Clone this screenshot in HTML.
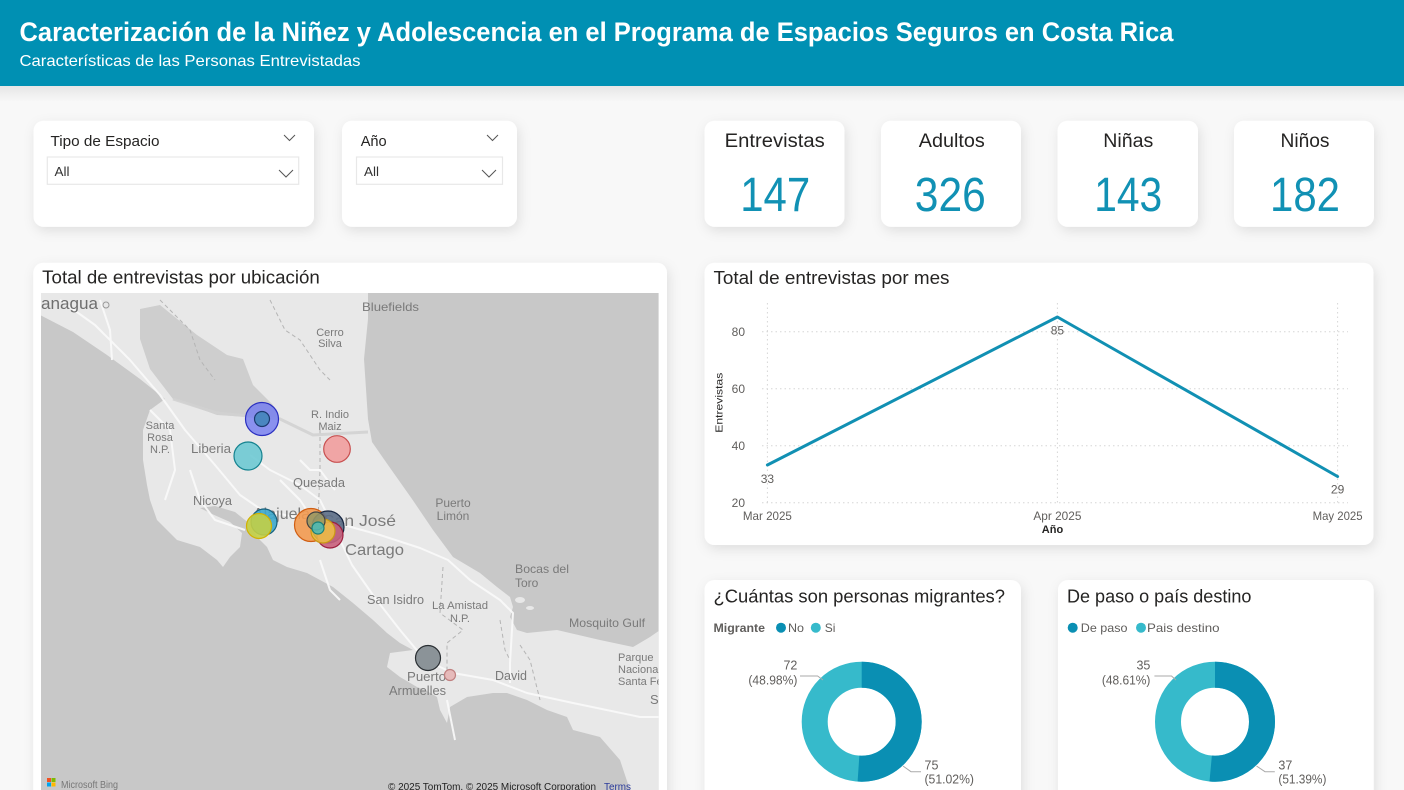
<!DOCTYPE html>
<html><head><meta charset="utf-8"><style>
html,body{margin:0;padding:0;background:#f8f8f8;}
svg{display:block;}
text{font-family:"Liberation Sans",sans-serif;}
</style></head><body>
<svg width="1404" height="790" viewBox="0 0 1404 790" xmlns="http://www.w3.org/2000/svg">
<defs>
<filter id="sh" x="-20%" y="-20%" width="140%" height="140%">
<feDropShadow dx="2" dy="4" stdDeviation="6" flood-color="#000" flood-opacity="0.10"/>
</filter>
<linearGradient id="hs" x1="0" y1="0" x2="0" y2="1">
<stop offset="0" stop-color="#e6e6e6"/><stop offset="1" stop-color="#f8f8f8"/>
</linearGradient>
<clipPath id="mapclip"><rect x="41" y="293" width="617.6" height="497"/></clipPath>
</defs>
<rect x="0" y="0" width="1404" height="790" fill="#f8f8f8"/>
<rect x="0" y="86" width="1404" height="16" fill="url(#hs)"/>
<rect x="0" y="0" width="1404" height="86" fill="#0090b3"/>
<text x="19.5" y="41" font-size="27" font-weight="bold" fill="#fff" textLength="1154" lengthAdjust="spacingAndGlyphs">Caracterización de la Niñez y Adolescencia en el Programa de Espacios Seguros en Costa Rica</text>
<text x="19.5" y="66" font-size="16" fill="#fff" textLength="341" lengthAdjust="spacingAndGlyphs">Características de las Personas Entrevistadas</text>

<!-- Slicers -->
<rect x="33.5" y="120.7" width="280.5" height="106" rx="10" fill="#fff" filter="url(#sh)"/>
<text x="50.5" y="146" font-size="15" fill="#252423" textLength="109" lengthAdjust="spacingAndGlyphs">Tipo de Espacio</text>
<polyline points="284,135 289.5,140.5 295,135" fill="none" stroke="#555" stroke-width="1"/>
<rect x="47.3" y="157" width="251.4" height="27.3" fill="#fff" stroke="#e8e8e8" stroke-width="1.2"/>
<text x="54.5" y="176" font-size="13" fill="#333" textLength="15" lengthAdjust="spacingAndGlyphs">All</text>
<polyline points="279,170 286,177 293,170" fill="none" stroke="#555" stroke-width="1"/>

<rect x="342" y="120.7" width="175" height="106" rx="10" fill="#fff" filter="url(#sh)"/>
<text x="360.7" y="146" font-size="15" fill="#252423" textLength="26" lengthAdjust="spacingAndGlyphs">Año</text>
<polyline points="487,135 492.5,140.5 498,135" fill="none" stroke="#555" stroke-width="1"/>
<rect x="356.5" y="157" width="146" height="27.3" fill="#fff" stroke="#e8e8e8" stroke-width="1.2"/>
<text x="364" y="176" font-size="13" fill="#333" textLength="15" lengthAdjust="spacingAndGlyphs">All</text>
<polyline points="482,170 489,177 496,170" fill="none" stroke="#555" stroke-width="1"/>

<!-- KPI cards -->
<g>
<rect x="704.5" y="120.7" width="140" height="106" rx="10" fill="#fff" filter="url(#sh)"/>
<text x="774.7" y="147" font-size="19" fill="#252423" text-anchor="middle" textLength="100" lengthAdjust="spacingAndGlyphs">Entrevistas</text>
<text x="775.2" y="211" font-size="48" fill="#1191b4" text-anchor="middle" textLength="70" lengthAdjust="spacingAndGlyphs">147</text>

<rect x="881" y="120.7" width="140" height="106" rx="10" fill="#fff" filter="url(#sh)"/>
<text x="951.8" y="147" font-size="19" fill="#252423" text-anchor="middle" textLength="66" lengthAdjust="spacingAndGlyphs">Adultos</text>
<text x="950.3" y="211" font-size="48" fill="#1191b4" text-anchor="middle" textLength="71" lengthAdjust="spacingAndGlyphs">326</text>

<rect x="1057.5" y="120.7" width="140.5" height="106" rx="10" fill="#fff" filter="url(#sh)"/>
<text x="1128.3" y="147" font-size="19" fill="#252423" text-anchor="middle" textLength="50" lengthAdjust="spacingAndGlyphs">Niñas</text>
<text x="1128.2" y="211" font-size="48" fill="#1191b4" text-anchor="middle" textLength="68" lengthAdjust="spacingAndGlyphs">143</text>

<rect x="1234" y="120.7" width="140" height="106" rx="10" fill="#fff" filter="url(#sh)"/>
<text x="1305" y="147" font-size="19" fill="#252423" text-anchor="middle" textLength="49" lengthAdjust="spacingAndGlyphs">Niños</text>
<text x="1305" y="211" font-size="48" fill="#1191b4" text-anchor="middle" textLength="70" lengthAdjust="spacingAndGlyphs">182</text>
</g>

<!-- Map card -->
<rect x="33.3" y="262.7" width="633.7" height="560" rx="10" fill="#fff" filter="url(#sh)"/>
<text x="42.2" y="283.3" font-size="18" fill="#252423" textLength="277.6" lengthAdjust="spacingAndGlyphs">Total de entrevistas por ubicación</text>
<g clip-path="url(#mapclip)">
<rect x="41" y="293" width="618" height="497" fill="#c8c8c8"/>
<polygon fill="#e8e8e8" points="40,292 368,292 368,319 364,359 368,419 372,442 388,465 412,499 433,530 453,557 480,573 497,587 510,597 513,607 510,617 517,630 527,633 557,630 600,640 633,647 650,637 660,630 660,790 630,790 620,760 600,737 573,730 567,717 547,710 527,700 507,693 493,693 467,697 450,707 447,723 440,710 437,697 425,690 417,687 400,677 387,667 390,653 413,650 400,643 387,633 373,620 353,603 333,587 307,573 287,567 273,560 267,547 257,537 250,524 235,512 215,506 200,508 212,514 230,522 242,533 240,547 230,557 223,567 217,560 200,547 177,540 157,520 150,500 147,485 143,460 143,430 150,410 165,399 140,379 107,355 73,332 40,315"/>
<polygon fill="#cecece" points="140,309 160,305 197,335 227,355 243,359 253,385 273,405 280,419 217,415 173,399 150,369 140,339"/>
<!-- islands near Bocas -->
<ellipse cx="520" cy="600" rx="5" ry="3" fill="#e8e8e8"/>
<ellipse cx="530" cy="608" rx="4" ry="2" fill="#e8e8e8"/>
<!-- roads -->
<g fill="none" stroke="#fafafa" stroke-width="2" stroke-linejoin="round" opacity="0.9">
<polyline points="60,300 95,325 130,360 160,395 185,430 215,465 240,495 262,510 290,516 320,524 340,540 352,565 375,598 400,630 425,660 453,673 493,680 527,693 573,703 640,717 660,717"/>
<polyline points="340,524 380,535 420,548 448,560 470,580 500,600 513,613 510,663 510,683"/>
<polyline points="250,455 270,470 300,485 320,500 330,520"/>
<polyline points="100,300 110,330 112,360"/>
<polyline points="190,470 200,500 215,520 245,530"/>
<polyline points="300,460 310,470 320,470 335,490"/>
<polyline points="320,560 330,590 340,600"/>
<polyline points="150,410 170,430 175,470 165,500"/>
<polyline points="280,480 300,500 310,515"/>
<polyline points="447,700 455,740"/>
</g>
<!-- borders -->
<g fill="none" stroke="#b5b5b5" stroke-width="1" stroke-dasharray="4,3">
<polyline points="443,567 440,613 463,630 447,643 447,670"/>
<polyline points="160,300 190,330 200,360 215,380"/>
<polyline points="270,300 285,330 300,340 320,370 330,380"/>
<polyline points="320,430 320,470 318,520"/>
<polyline points="520,645 530,660 540,700"/>
<polyline points="500,620 505,650 510,660"/>
</g>
<g fill="none" stroke="#d2d2d2" stroke-width="3" opacity="0.9">
<polyline points="173,399 217,413 280,419 313,435 368,432"/>
</g>
<!-- labels -->
<g fill="#7a7a7a">
<text x="41" y="309" font-size="17" fill="#6e6e6e" textLength="57" lengthAdjust="spacingAndGlyphs">anagua</text>
<circle cx="106" cy="305" r="3" fill="none" stroke="#999" stroke-width="1"/>
<text x="362" y="311" font-size="12" textLength="57" lengthAdjust="spacingAndGlyphs">Bluefields</text>
<text x="330" y="336" font-size="11" text-anchor="middle">Cerro</text>
<text x="330" y="347" font-size="11" text-anchor="middle">Silva</text>
<text x="330" y="418" font-size="11" text-anchor="middle">R. Indio</text>
<text x="330" y="430" font-size="11" text-anchor="middle">Maiz</text>
<text x="160" y="429" font-size="11" text-anchor="middle">Santa</text>
<text x="160" y="441" font-size="11" text-anchor="middle">Rosa</text>
<text x="160" y="453" font-size="11" text-anchor="middle">N.P.</text>
<text x="191" y="453" font-size="13" textLength="40" lengthAdjust="spacingAndGlyphs">Liberia</text>
<text x="293" y="487" font-size="13" textLength="52" lengthAdjust="spacingAndGlyphs">Quesada</text>
<text x="193" y="505" font-size="13" textLength="39" lengthAdjust="spacingAndGlyphs">Nicoya</text>
<text x="253" y="519" font-size="16" textLength="57" lengthAdjust="spacingAndGlyphs">Alajuela</text>
<text x="323" y="526" font-size="16" textLength="73" lengthAdjust="spacingAndGlyphs">San José</text>
<text x="345" y="555" font-size="16" textLength="59" lengthAdjust="spacingAndGlyphs">Cartago</text>
<text x="453" y="507" font-size="12" text-anchor="middle">Puerto</text>
<text x="453" y="520" font-size="12" text-anchor="middle">Limón</text>
<text x="515" y="573" font-size="12" textLength="54" lengthAdjust="spacingAndGlyphs">Bocas del</text>
<text x="515" y="587" font-size="12">Toro</text>
<text x="367" y="604" font-size="13" textLength="57" lengthAdjust="spacingAndGlyphs">San Isidro</text>
<text x="432" y="609" font-size="11" textLength="56" lengthAdjust="spacingAndGlyphs">La Amistad</text>
<text x="460" y="622" font-size="11" text-anchor="middle">N.P.</text>
<text x="569" y="627" font-size="12" textLength="76" lengthAdjust="spacingAndGlyphs">Mosquito Gulf</text>
<text x="618" y="661" font-size="11">Parque</text>
<text x="618" y="673" font-size="11">Nacional</text>
<text x="618" y="685" font-size="11">Santa Fé</text>
<text x="495" y="680" font-size="13" textLength="32" lengthAdjust="spacingAndGlyphs">David</text>
<text x="407" y="681" font-size="13" textLength="39" lengthAdjust="spacingAndGlyphs">Puerto</text>
<text x="389" y="695" font-size="13" textLength="57" lengthAdjust="spacingAndGlyphs">Armuelles</text>
<text x="650" y="704" font-size="13">San</text>
</g>
<!-- bubbles -->
<g stroke-width="1.2">
<circle cx="262" cy="419" r="16.5" fill="#6b74f2" fill-opacity="0.75" stroke="#2a2fc0"/>
<circle cx="262" cy="419" r="7.5" fill="#4a86c0" stroke="#1c3a70"/>
<circle cx="337" cy="449" r="13.3" fill="#f19999" fill-opacity="0.85" stroke="#c85050"/>
<circle cx="248" cy="456" r="14" fill="#6ec9d3" fill-opacity="0.9" stroke="#14828f"/>
<circle cx="264" cy="522" r="13" fill="#3ca7cc" fill-opacity="0.9" stroke="#17607c"/>
<circle cx="259" cy="526" r="12.5" fill="#c3cf45" fill-opacity="0.9" stroke="#d2b100"/>
<circle cx="311" cy="525" r="16.5" fill="#f39a50" fill-opacity="0.9" stroke="#d05e12"/>
<circle cx="328" cy="527" r="16" fill="#5b6d86" fill-opacity="0.9" stroke="#15243f"/>
<circle cx="330" cy="535" r="13" fill="#c9607c" fill-opacity="0.9" stroke="#9c1f3e"/>
<circle cx="323" cy="531" r="12" fill="#eec143" fill-opacity="0.85" stroke="#c89a12"/>
<circle cx="316" cy="521" r="9" fill="#9a9864" fill-opacity="0.9" stroke="#444"/>
<circle cx="318" cy="528" r="6" fill="#4fb9b2" fill-opacity="0.9" stroke="#1a7f78"/>
<circle cx="428" cy="658" r="12.5" fill="#8b9398" stroke="#2a2f33"/>
<circle cx="450" cy="675" r="5.5" fill="#e6baba" stroke="#c08080"/>
</g>
<!-- footer -->
<rect x="47" y="778" width="4" height="4" fill="#f25022"/>
<rect x="51.5" y="778" width="4" height="4" fill="#7fba00"/>
<rect x="47" y="782.5" width="4" height="4" fill="#00a4ef"/>
<rect x="51.5" y="782.5" width="4" height="4" fill="#ffb900"/>
<text x="61" y="788" font-size="10" fill="#777" textLength="57" lengthAdjust="spacingAndGlyphs">Microsoft Bing</text>
<text x="388" y="790" font-size="10" fill="#222" textLength="208" lengthAdjust="spacingAndGlyphs">© 2025 TomTom, © 2025 Microsoft Corporation</text>
<text x="604" y="790" font-size="10" fill="#2a3a9a" textLength="27" lengthAdjust="spacingAndGlyphs">Terms</text>
</g>

<!-- Line chart card -->
<rect x="704.5" y="262.7" width="669" height="282.3" rx="10" fill="#fff" filter="url(#sh)"/>
<text x="713.5" y="284" font-size="18" fill="#252423" textLength="236" lengthAdjust="spacingAndGlyphs">Total de entrevistas por mes</text>
<g stroke="#d6d6d6" stroke-width="1" stroke-dasharray="1.5,3" fill="none">
<line x1="762" y1="331.7" x2="1348" y2="331.7"/>
<line x1="762" y1="388.7" x2="1348" y2="388.7"/>
<line x1="762" y1="445.7" x2="1348" y2="445.7"/>
<line x1="762" y1="502.7" x2="1348" y2="502.7"/>
<line x1="767.4" y1="303" x2="767.4" y2="503"/>
<line x1="1057.4" y1="303" x2="1057.4" y2="503"/>
<line x1="1337.6" y1="303" x2="1337.6" y2="503"/>
</g>
<g font-size="12" fill="#605e5c" text-anchor="end">
<text x="745" y="336">80</text>
<text x="745" y="393">60</text>
<text x="745" y="450">40</text>
<text x="745" y="507">20</text>
</g>
<text transform="translate(722.5,402.7) rotate(-90)" font-size="10" fill="#252423" text-anchor="middle" textLength="60" lengthAdjust="spacingAndGlyphs">Entrevistas</text>
<polyline points="767.4,465 1057.4,317 1337.6,476.5" fill="none" stroke="#1190b3" stroke-width="3" stroke-linejoin="round" stroke-linecap="round"/>
<g font-size="12" fill="#605e5c" text-anchor="middle">
<text x="767.4" y="483">33</text>
<text x="1057.4" y="334.5">85</text>
<text x="1337.6" y="493.5">29</text>
<text x="767.4" y="520" textLength="49" lengthAdjust="spacingAndGlyphs">Mar 2025</text>
<text x="1057.4" y="520" textLength="48" lengthAdjust="spacingAndGlyphs">Apr 2025</text>
<text x="1337.6" y="520" textLength="50" lengthAdjust="spacingAndGlyphs">May 2025</text>
</g>
<text x="1052.5" y="533" font-size="11" font-weight="bold" fill="#252423" text-anchor="middle">Año</text>

<!-- Donut card 1 -->
<rect x="704.5" y="580" width="316.5" height="240" rx="10" fill="#fff" filter="url(#sh)"/>
<text x="713.5" y="602.3" font-size="18" fill="#252423" textLength="291.5" lengthAdjust="spacingAndGlyphs">¿Cuántas son personas migrantes?</text>
<text x="713.5" y="632" font-size="12" font-weight="bold" fill="#605e5c" textLength="51.5" lengthAdjust="spacingAndGlyphs">Migrante</text>
<circle cx="781" cy="627.7" r="5" fill="#0a8fb3"/>
<text x="788" y="632" font-size="12" fill="#605e5c" textLength="16" lengthAdjust="spacingAndGlyphs">No</text>
<circle cx="815.8" cy="627.7" r="5" fill="#36bacb"/>
<text x="824.8" y="632" font-size="12" fill="#605e5c">Si</text>
<circle cx="861.7" cy="721.7" r="47" fill="none" stroke="#36bacb" stroke-width="26"/>
<circle cx="861.7" cy="721.7" r="47" fill="none" stroke="#0a8fb3" stroke-width="26" stroke-dasharray="150.7 400" transform="rotate(-90 861.7 721.7)"/>
<polyline points="800,676 817.6,676 823,680" fill="none" stroke="#aaa" stroke-width="1"/>
<polyline points="903,766 911,771.7 921,771.7" fill="none" stroke="#aaa" stroke-width="1"/>
<g font-size="12.5" fill="#605e5c">
<text x="797.4" y="669.3" text-anchor="end">72</text>
<text x="797.4" y="684.3" text-anchor="end" textLength="49" lengthAdjust="spacingAndGlyphs">(48.98%)</text>
<text x="924.5" y="769.3">75</text>
<text x="924.5" y="783.3" textLength="49.5" lengthAdjust="spacingAndGlyphs">(51.02%)</text>
</g>

<!-- Donut card 2 -->
<rect x="1058" y="580" width="315.6" height="240" rx="10" fill="#fff" filter="url(#sh)"/>
<text x="1067" y="602.3" font-size="18" fill="#252423" textLength="184.4" lengthAdjust="spacingAndGlyphs">De paso o país destino</text>
<circle cx="1072.7" cy="627.7" r="5" fill="#0a8fb3"/>
<text x="1080.8" y="632" font-size="12" fill="#605e5c" textLength="46.7" lengthAdjust="spacingAndGlyphs">De paso</text>
<circle cx="1141" cy="627.7" r="5" fill="#36bacb"/>
<text x="1147" y="632" font-size="12" fill="#605e5c" textLength="72.5" lengthAdjust="spacingAndGlyphs">Pais destino</text>
<circle cx="1215" cy="721.7" r="47" fill="none" stroke="#36bacb" stroke-width="26"/>
<circle cx="1215" cy="721.7" r="47" fill="none" stroke="#0a8fb3" stroke-width="26" stroke-dasharray="151.8 400" transform="rotate(-90 1215 721.7)"/>
<polyline points="1154.4,676 1171.5,676 1176,680" fill="none" stroke="#aaa" stroke-width="1"/>
<polyline points="1256.5,766 1265,771.7 1274.8,771.7" fill="none" stroke="#aaa" stroke-width="1"/>
<g font-size="12.5" fill="#605e5c">
<text x="1150.4" y="669.3" text-anchor="end">35</text>
<text x="1150.4" y="684.3" text-anchor="end" textLength="48.5" lengthAdjust="spacingAndGlyphs">(48.61%)</text>
<text x="1278.4" y="769.3">37</text>
<text x="1278.4" y="783.3" textLength="48" lengthAdjust="spacingAndGlyphs">(51.39%)</text>
</g>
</svg>
</body></html>
